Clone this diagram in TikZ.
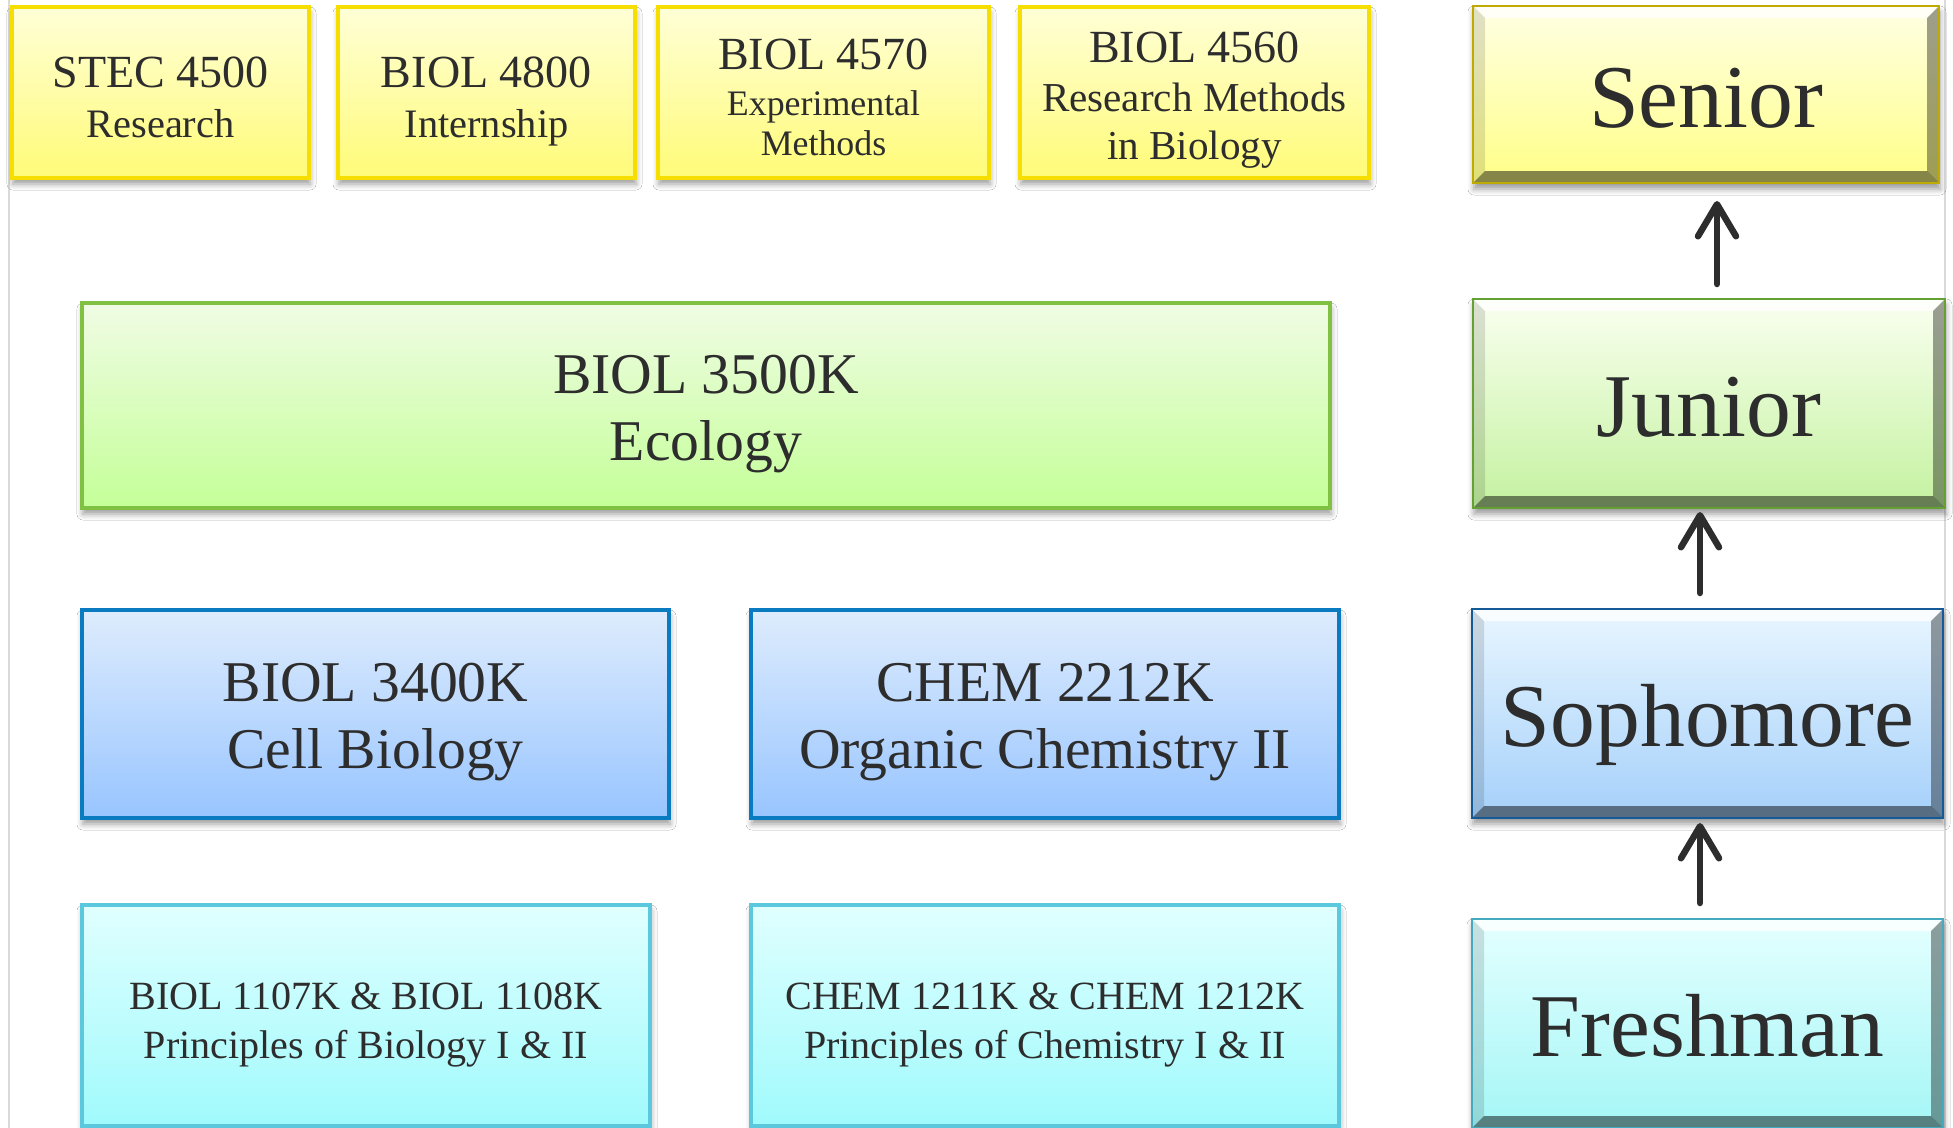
\documentclass[tikz,border=0pt]{standalone}
\usepackage{fontspec}
\setmainfont{Liberation Serif}
\usetikzlibrary{arrows.meta,shadows,shadows.blur,positioning}
\definecolor{ink}{RGB}{45,45,45}
\definecolor{pageline}{RGB}{218,218,218}
\definecolor{YellowEdge}{RGB}{245,222,0}
\definecolor{YellowTop}{RGB}{255,255,215}
\definecolor{YellowBot}{RGB}{255,251,120}
\definecolor{GreenEdge}{RGB}{128,192,66}
\definecolor{GreenTop}{RGB}{240,252,228}
\definecolor{GreenBot}{RGB}{196,255,152}
\definecolor{BlueEdge}{RGB}{10,123,192}
\definecolor{BlueTop}{RGB}{222,236,253}
\definecolor{BlueBot}{RGB}{152,197,255}
\definecolor{CyanEdge}{RGB}{92,200,222}
\definecolor{CyanTop}{RGB}{224,255,255}
\definecolor{CyanBot}{RGB}{160,250,252}
% year ladder colours
\definecolor{SeniorTop}{RGB}{255,255,228}
\definecolor{SeniorBot}{RGB}{255,255,135}
\definecolor{SeniorEdge}{RGB}{190,170,0}
\definecolor{JuniorTop}{RGB}{250,255,240}
\definecolor{JuniorBot}{RGB}{196,242,160}
\definecolor{JuniorEdge}{RGB}{100,160,50}
\definecolor{SophTop}{RGB}{232,246,255}
\definecolor{SophBot}{RGB}{165,208,250}
\definecolor{SophEdge}{RGB}{20,90,150}
\definecolor{FreshTop}{RGB}{228,255,255}
\definecolor{FreshBot}{RGB}{165,246,246}
\definecolor{FreshEdge}{RGB}{70,170,190}
% text height/depth are fixed so the lines sit a bit below the middle
\tikzset{
  course/.style={rectangle,draw,line width=0.04cm,inner sep=0pt,align=center,
                 text=ink,text depth=0pt,
                 blur shadow={shadow xshift=0.01cm,shadow yshift=-0.06cm,
                 shadow blur radius=0.06cm,shadow opacity=40}},
  ybox/.style={course,draw=YellowEdge,top color=YellowTop,bottom color=YellowBot,
               minimum height=1.71cm,font=\fontsize{13.1}{14.2}\selectfont,
               text height=25.4pt},
  gbox/.style={course,draw=GreenEdge,top color=GreenTop,bottom color=GreenBot,
               minimum height=2.05cm,font=\fontsize{16.4}{19}\selectfont,
               text height=31.3pt},
  bbox/.style={course,draw=BlueEdge,top color=BlueTop,bottom color=BlueBot,
               minimum height=2.08cm,font=\fontsize{16.4}{19.2}\selectfont,
               text height=31.2pt},
  cbox/.style={course,draw=CyanEdge,top color=CyanTop,bottom color=CyanBot,
               minimum height=2.21cm,font=\fontsize{11.4}{13.9}\selectfont,
               text height=24.4pt},
}
\newcommand{\subsize}{\fontsize{11.5}{13}\selectfont}
\newcommand{\smallsub}{\fontsize{10.2}{11.4}\selectfont}
\newcommand{\midsub}{\fontsize{11.7}{13}\selectfont}

\begin{document}
\begin{tikzpicture}[
  % level boxes with a bevelled rim
  level/.style={rectangle,draw=#1Edge,line width=0.02cm,inner sep=0pt,
    minimum width=4.71cm,minimum height=2.09cm,text=ink,text depth=0pt,
    font=\fontsize{25.5}{30}\selectfont,
    execute at begin node=\rule{0pt}{19pt},
    top color=#1Top,bottom color=#1Bot,
    blur shadow={shadow xshift=0.01cm,shadow yshift=-0.06cm,
                 shadow blur radius=0.06cm,shadow opacity=40},
    path picture={
      \fill[white,opacity=0.75] (path picture bounding box.north west)
        -- (path picture bounding box.north east)
        -- ([shift={(-0.12,-0.12)}]path picture bounding box.north east)
        -- ([shift={(0.12,-0.12)}]path picture bounding box.north west) -- cycle;
      \fill[black,opacity=0.12] (path picture bounding box.north west)
        -- ([shift={(0.12,-0.12)}]path picture bounding box.north west)
        -- ([shift={(0.12,0.12)}]path picture bounding box.south west)
        -- (path picture bounding box.south west) -- cycle;
      \fill[black,opacity=0.38] (path picture bounding box.north east)
        -- ([shift={(-0.12,-0.12)}]path picture bounding box.north east)
        -- ([shift={(-0.12,0.12)}]path picture bounding box.south east)
        -- (path picture bounding box.south east) -- cycle;
      \fill[black,opacity=0.48] (path picture bounding box.south west)
        -- ([shift={(0.12,0.12)}]path picture bounding box.south west)
        -- ([shift={(-0.12,0.12)}]path picture bounding box.south east)
        -- (path picture bounding box.south east) -- cycle;
    }},
  up/.style={-{Straight Barb[length=3.2mm,width=3.8mm,round]},
             line width=0.065cm,ink,line cap=round}
]
\useasboundingbox (0,0) rectangle (19.53,-11.28);
\fill[white] (0,0) rectangle (19.53,-11.28);
\clip (0,0) rectangle (19.53,-11.28);
\draw[pageline,line width=0.02cm] (0.09,0) -- (0.09,-11.28);
\draw[pageline,line width=0.02cm] (19.45,0) -- (19.45,-11.28);

% fourth year
\node[ybox,minimum width=2.97cm] (stec) at (1.605,-0.925)
  {STEC 4500\\{\subsize Research}};
\node[ybox,minimum width=2.97cm] (intern) at (4.865,-0.925)
  {BIOL 4800\\{\subsize Internship}};
\node[ybox,minimum width=3.31cm,text height=35.6pt] (expmeth) at (8.235,-0.925)
  {BIOL 4570\\[-1.2pt]{\smallsub Experimental}\\[-2.8pt]{\smallsub Methods}};
\node[ybox,minimum width=3.49cm,text height=38.4pt] (resmeth) at (11.945,-0.925)
  {BIOL 4560\\[-0.5pt]{\midsub Research Methods}\\[-0.3pt]{\midsub in Biology}};

% third year
\node[gbox,minimum width=12.48cm] (ecology) at (7.06,-4.055)
  {BIOL 3500K\\Ecology};

% second year
\node[bbox,minimum width=5.87cm] (cellbio) at (3.755,-7.14)
  {BIOL 3400K\\Cell Biology};
\node[bbox,minimum width=5.88cm] (orgchem) at (10.45,-7.14)
  {CHEM 2212K\\Organic Chemistry II};

% first year
\node[cbox,minimum width=5.68cm] (princbio) at (3.66,-10.155)
  {BIOL 1107K \& BIOL 1108K\\Principles of Biology I \& II};
\node[cbox,minimum width=5.88cm] (princchem) at (10.45,-10.155)
  {CHEM 1211K \& CHEM 1212K\\Principles of Chemistry I \& II};

% year ladder
\node[level=Senior,minimum width=4.66cm,minimum height=1.77cm] (senior)
  at (17.06,-0.945) {Senior};
\node[level=Junior,minimum width=4.72cm] (junior) at (17.09,-4.035) {Junior};
\node[level=Soph] (sophomore) at (17.075,-7.135) {Sophomore};
\node[level=Fresh] (freshman) at (17.075,-10.235) {Freshman};

\draw[up,shorten <=0.14cm,shorten >=0.17cm]
  ([xshift=0.08cm]junior.north) -- ([xshift=0.11cm]senior.south);
\draw[up,shorten <=0.15cm,shorten >=0.03cm]
  ([xshift=-0.075cm]sophomore.north) -- ([xshift=-0.09cm]junior.south);
\draw[up,shorten <=0.15cm,shorten >=0.04cm]
  ([xshift=-0.075cm]freshman.north) -- ([xshift=-0.075cm]sophomore.south);
\end{tikzpicture}
\end{document}
